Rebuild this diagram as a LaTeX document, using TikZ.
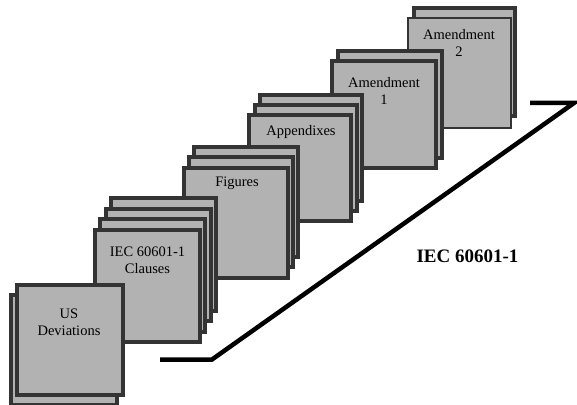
\documentclass[tikz,border=0pt]{standalone}
\usepackage{fontspec}
\setmainfont{Liberation Serif}
\usetikzlibrary{calc}

\definecolor{pagefill}{RGB}{178,178,178}
\definecolor{pageedge}{RGB}{52,52,52}

\begin{document}
\begin{tikzpicture}[x=1pt, y=1pt,
    page/.style={draw=pageedge, line width=4pt, fill=pagefill},
    tag/.style={font=\fontsize{14.5}{17}\selectfont, align=center, inner sep=0pt}]

  \useasboundingbox (0,0) rectangle (577,404);

  % stacks, farthest first: x/y of top left corner, size, number of sheets behind,
  % shift of each sheet behind, edge width of the top sheet
  \foreach \x/\y/\w/\h/\n/\dx/\dy/\lw in {
      407/387/105/112/1/4.5/11/2,
      330/345/108/111/1/6/10/4,
      247/291/106/110/2/5.5/10/4,
      182/238/108/114/2/5/10.5/4,
      93/176/109/116/3/5.3/10.5/4,
      15/121/110/114/1/-6/-10/4} {
    \foreach \k in {\n,...,1}
      \draw[page] (\x+\k*\dx+2, \y+\k*\dy-2) rectangle ++(\w-4, -\h+4);
    \draw[page, line width=\lw pt] (\x+\lw/2, \y-\lw/2) rectangle ++(\w-\lw, -\h+\lw);
  }

  \node[tag] (amendtwo) at (459, 361) {Amendment\\2};
  \node[tag] (amendone) at (384, 313) {Amendment\\1};
  \node[tag] (appendix) at (301, 272) {Appendixes};
  \node[tag] (figures) at (237, 221) {Figures};
  \node[tag] (clauses) at (147.5, 144) {IEC 60601-1\\Clauses};
  \node[tag] (usdev) at (69, 81.5) {US\\Deviations};

  % bracket under the whole standard
  \draw[line width=4.5pt, line join=miter] (160,44.5) -- (212,44.5) -- (574,301) -- (530,301);

  \node[font=\fontsize{19}{22}\selectfont\bfseries] (standard) at (467.5,148) {IEC 60601-1};

\end{tikzpicture}
\end{document}
